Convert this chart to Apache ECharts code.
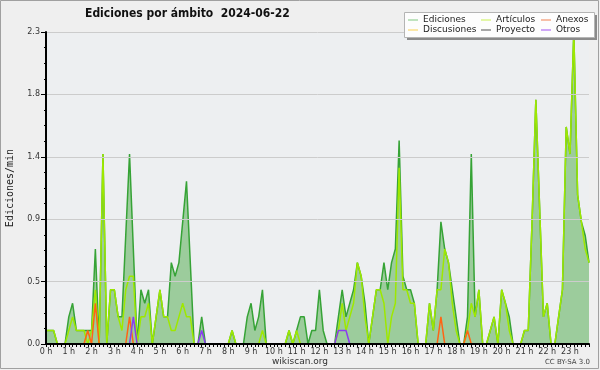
<!DOCTYPE html>
<html>
<head>
<meta charset="utf-8">
<script src="https://cdn.jsdelivr.net/npm/echarts@6/dist/echarts.min.js"></script>
<style>
html,body{margin:0;padding:0;background:#fff;}
#c{width:600px;height:370px;}
</style>
</head>
<body>
<div id="c"></div>
<script>
// Hour tick labels (one label every 6 ten-minute slots)
const hourLabels = ['0 h','1 h','2 h','3 h','4 h','5 h','6 h','7 h','8 h','9 h','10 h','11 h',
  '12 h','13 h','14 h','15 h','16 h','17 h','18 h','19 h','20 h','21 h','22 h','23 h'];
const minuteSlots = ['00','10','20','30','40','50'];

// Ediciones/min, one value per 10 minutes (6 per row = one hour)
const ediciones = [
  0.1,0.1,0.1,0,0,0,
  0.2,0.3,0.1,0.1,0.1,0.1,
  0.1,0.7,0,1.4,0,0.4,
  0.4,0.2,0.2,0.8,1.4,0.7,
  0,0.4,0.3,0.4,0,0.2,
  0.4,0.2,0.2,0.6,0.5,0.6,
  0.9,1.2,0.6,0,0,0.2,
  0,0,0,0,0,0,
  0,0.1,0,0,0,0.2,
  0.3,0.1,0.2,0.4,0,0,
  0,0,0,0,0.1,0,
  0.1,0.2,0.2,0,0.1,0.1,
  0.4,0.1,0,0,0,0.2,
  0.4,0.2,0.3,0.4,0.6,0.5,
  0.3,0,0.2,0.4,0.4,0.6,
  0.4,0.6,0.7,1.5,0.5,0.4,
  0.4,0.3,0,0,0,0.3,
  0.1,0.4,0.9,0.7,0.6,0.4,
  0.2,0,0,0.2,1.4,0.2,
  0.4,0,0,0.1,0.2,0,
  0.4,0.3,0.2,0,0,0,
  0.1,0.1,0.9,1.8,1.0,0.2,
  0.3,0,0,0.2,0.4,1.6,
  1.4,2.3,1.1,0.9,0.8,0.6
];
const articulos = [
  0.1,0.1,0.1,0,0,0,
  0.1,0.2,0.1,0.1,0.1,0,
  0.1,0.4,0,1.4,0,0.4,
  0.4,0.2,0.1,0.4,0.5,0.5,
  0,0.2,0.2,0.3,0,0.2,
  0.4,0.2,0.2,0.1,0.1,0.2,
  0.3,0.2,0.2,0,0,0,
  0,0,0,0,0,0,
  0,0.1,0,0,0,0,
  0,0,0,0.1,0,0,
  0,0,0,0,0.1,0,
  0.1,0,0,0,0,0,
  0,0,0,0,0,0.1,
  0.3,0.1,0.2,0.3,0.6,0.5,
  0.2,0,0.2,0.4,0.4,0.3,
  0,0.2,0.3,1.3,0.4,0.4,
  0.3,0.3,0,0,0,0.3,
  0.1,0.4,0.4,0.7,0.6,0.3,
  0.1,0,0,0.1,0.3,0.2,
  0.4,0,0,0.1,0.2,0,
  0.4,0.3,0.1,0,0,0,
  0.1,0.1,0.9,1.8,1.0,0.2,
  0.3,0,0,0.2,0.4,1.6,
  1.4,2.3,1.1,0.9,0.7,0.6
];
const anexos = [
  0,0,0,0,0,0,
  0,0,0,0,0,0.1,
  0,0.3,0,0,0,0,
  0,0,0,0,0.2,0,
  0,0,0,0,0,0,
  0,0,0,0,0,0,
  0,0,0,0,0,0,
  0,0,0,0,0,0,
  0,0,0,0,0,0,
  0,0,0,0,0,0,
  0,0,0,0,0,0,
  0,0,0,0,0,0,
  0,0,0,0,0,0,
  0,0,0,0,0,0,
  0,0,0,0,0,0,
  0,0,0,0,0,0,
  0,0,0,0,0,0,
  0,0,0.2,0,0,0,
  0,0,0,0.1,0,0,
  0,0,0,0,0,0,
  0,0,0,0,0,0,
  0,0,0,0,0,0,
  0,0,0,0,0,0,
  0,0,0,0,0,0
];
const otros = [
  0,0,0,0,0,0,
  0,0,0,0,0,0,
  0,0,0,0,0,0,
  0,0,0,0,0,0.2,
  0,0,0,0,0,0,
  0,0,0,0,0,0,
  0,0,0,0,0,0.1,
  0,0,0,0,0,0,
  0,0,0,0,0,0,
  0,0,0,0,0,0,
  0,0,0,0,0,0,
  0,0,0,0,0,0,
  0,0,0,0,0,0.1,
  0.1,0.1,0,0,0,0,
  0,0,0,0,0,0,
  0,0,0,0,0,0,
  0,0,0,0,0,0,
  0,0,0,0,0,0,
  0,0,0,0,0,0,
  0,0,0,0,0,0,
  0,0,0,0,0,0,
  0,0,0,0,0,0,
  0,0,0,0,0,0,
  0,0,0,0,0,0
];
// Discusiones and Proyecto stay at zero all day (hidden under the axis line)
const discusiones = [];
const proyecto = [];

const categories = [];
hourLabels.forEach(function(h){ minuteSlots.forEach(function(m){ categories.push(h + m); }); });

const chart = echarts.init(document.getElementById('c'), null, {renderer: 'canvas'});

function mkLegend(name, color, left, top) {
  return {
    data: [{name: name, itemStyle: {color: color}}],
    left: left, top: top, padding: 0, icon: 'rect', itemWidth: 10, itemHeight: 1,
    selectedMode: false, z: 12,
    textStyle: {fontSize: 9, color: '#222', fontFamily: 'DejaVu Sans', lineHeight: 10}
  };
}

const option = {
  animation: false,
  backgroundColor: '#efefef',
  title: {
    text: 'Ediciones por ámbito  2024-06-22', left: 85, top: 8, padding: 0,
    textStyle: {fontFamily: '"DejaVu Sans Condensed", "DejaVu Sans"', fontWeight: 'bold', fontSize: 12, color: '#111'}
  },
  legend: [
    mkLegend('Ediciones', '#80c880', 408, 15),
    mkLegend('Artículos', '#c8f050', 481, 15),
    mkLegend('Anexos', '#f08050', 541, 15),
    mkLegend('Discusiones', '#f8d050', 408, 25),
    mkLegend('Proyecto', '#505050', 481, 25),
    mkLegend('Otros', '#a050f0', 541, 25)
  ],
  grid: {left: 46, right: 11, top: 32, bottom: 26, show: true, backgroundColor: '#edeff1', borderWidth: 0,
         containLabel: false, outerBoundsMode: 'none'},
  xAxis: {
    type: 'category', data: categories, boundaryGap: false, z: 10,
    axisLine: {lineStyle: {color: '#000', width: 2}},
    axisTick: {interval: 0, length: 3, lineStyle: {color: '#000'}},
    axisLabel: {
      interval: function(i){ return i % 6 === 0; },
      formatter: function(v, i){ return hourLabels[Math.floor(i / 6)]; },
      fontSize: 8, color: '#333', margin: 4, fontFamily: 'DejaVu Sans'
    },
    splitLine: {show: false}
  },
  yAxis: {
    type: 'value', min: 0, max: 2.3, interval: 0.46, z: 10,
    name: 'Ediciones/min', nameLocation: 'middle', nameGap: 31,
    nameTextStyle: {fontFamily: 'DejaVu Sans Mono', fontSize: 10, color: '#222'},
    axisLine: {show: true, lineStyle: {color: '#000', width: 2}},
    axisTick: {show: true, length: 5, lineStyle: {color: '#000'}},
    minorTick: {show: true, splitNumber: 4, length: 2, lineStyle: {color: '#000'}},
    splitLine: {show: true, lineStyle: {color: '#cccccc', width: 1}},
    axisLabel: {formatter: function(v){ return v.toFixed(1); }, fontSize: 8, color: '#333', margin: 6, fontFamily: 'DejaVu Sans'}
  },
  series: [
    {name: 'Ediciones', type: 'line', data: ediciones, showSymbol: false, z: 2,
     lineStyle: {color: '#36a336', width: 1.5}, itemStyle: {color: '#36a336'},
     areaStyle: {color: '#9ccc9c', opacity: 1}},
    {name: 'Artículos', type: 'line', data: articulos, showSymbol: false, z: 3,
     lineStyle: {color: '#9ee800', width: 1.5}, itemStyle: {color: '#9ee800'}},
    {name: 'Discusiones', type: 'line', data: discusiones, showSymbol: false, z: 3,
     lineStyle: {color: '#f8d050', width: 1.5}, itemStyle: {color: '#f8d050'}},
    {name: 'Proyecto', type: 'line', data: proyecto, showSymbol: false, z: 3,
     lineStyle: {color: '#505050', width: 1.5}, itemStyle: {color: '#505050'}},
    {name: 'Anexos', type: 'line', data: anexos, showSymbol: false, z: 4,
     lineStyle: {color: '#ff6414', width: 1.5}, itemStyle: {color: '#ff6414'}},
    {name: 'Otros', type: 'line', data: otros, showSymbol: false, z: 4,
     lineStyle: {color: '#8a3cf0', width: 1.5}, itemStyle: {color: '#8a3cf0'}}
  ],
  graphic: {elements: [
    {type: 'rect', z: 11, silent: true, shape: {x: 407, y: 15, width: 190, height: 25}, style: {fill: '#8a8a8a'}},
    {type: 'rect', z: 11, silent: true, shape: {x: 404.5, y: 12.5, width: 190, height: 25}, style: {fill: '#fdfdfd', stroke: '#b4b4b4', lineWidth: 1}},
    {type: 'text', z: 11, silent: true, x: 300, y: 362, style: {text: 'wikiscan.org', fontSize: 9, fontFamily: 'DejaVu Sans', fill: '#333', align: 'center', verticalAlign: 'middle'}},
    {type: 'text', z: 11, silent: true, x: 590, y: 362, style: {text: 'CC BY-SA 3.0', fontSize: 7, fontFamily: 'DejaVu Sans', fill: '#444', align: 'right', verticalAlign: 'middle'}},
    {type: 'rect', z: 100, silent: true, shape: {x: 0.5, y: 0.5, width: 598, height: 368}, style: {fill: 'none', stroke: '#a0a0a0', lineWidth: 1}}
  ]}
};
chart.setOption(option);
</script>
</body>
</html>
